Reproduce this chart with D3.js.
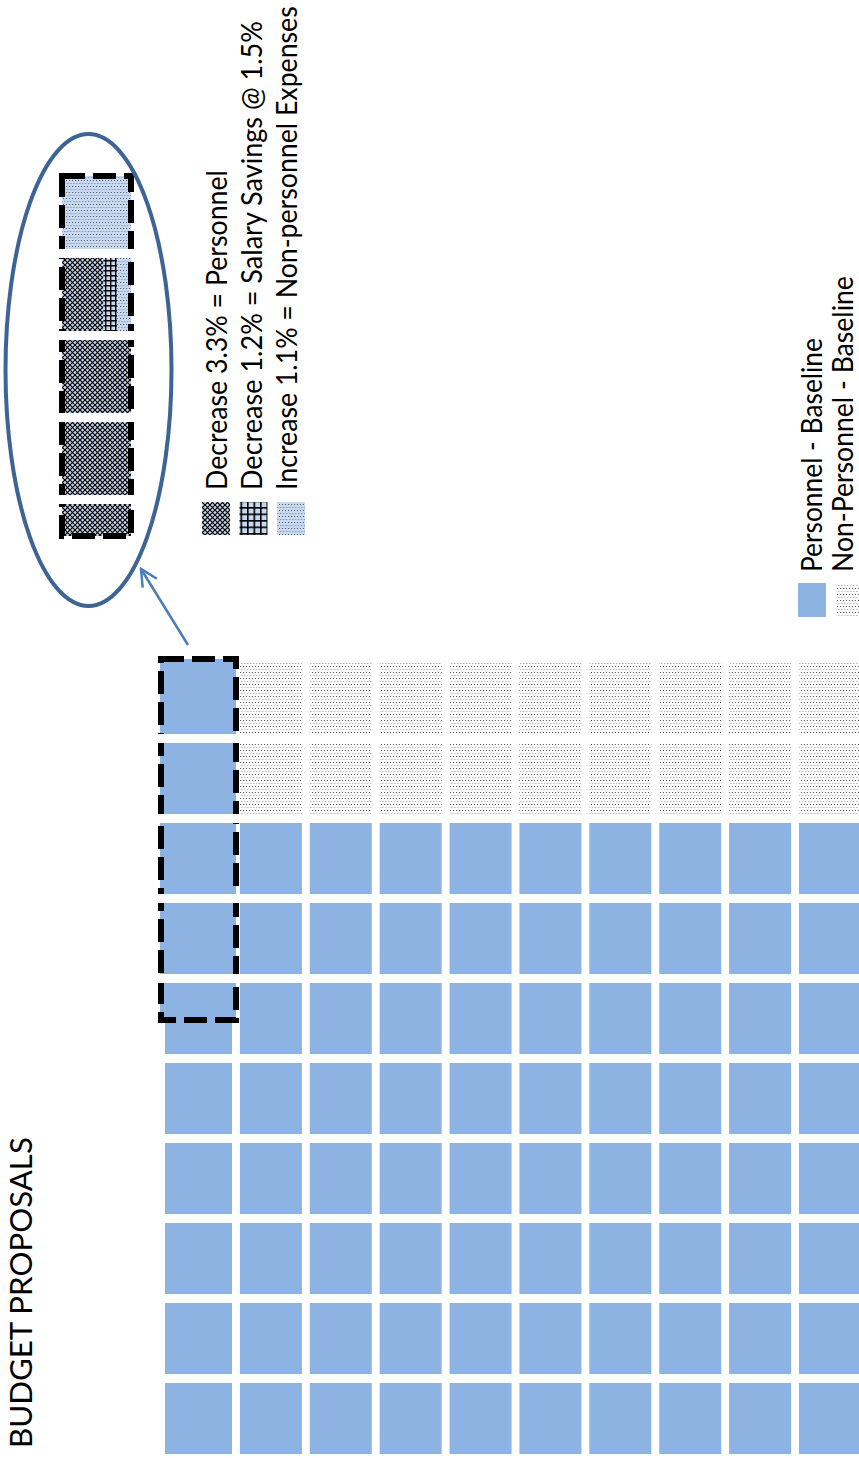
<!DOCTYPE html>
<html>
<head>
<meta charset="utf-8">
<script src="https://cdn.jsdelivr.net/npm/d3@7"></script>
<style>
  html, body { margin: 0; padding: 0; background: #fff; }
  svg { display: block; }
  text { font-family: Lato, "Open Sans", sans-serif; fill: #000; }
</style>
</head>
<body>
<div id="chart"></div>
<script>
// Waffle grid: 10 x 10 cells, each cell = 1% of the budget
const columns = d3.range(10);
const rows = d3.range(10);
// rows (from top) where the cells are non-personnel, and the columns they cover
const nonPersonnelRows = [0, 1];
const nonPersonnelCols = [1, 2, 3, 4, 5, 6, 7, 8, 9];
// cells of column 0 singled out by the dashed box (4.5 cells)
const highlightCol = 0;
const highlightCells = 4.5;

// Zoomed inset: one entry per cell (top to bottom), parts left to right
const insetCells = [
  { size: 1.0, parts: [{ key: 'inc', share: 1.0 }] },
  { size: 1.0, parts: [{ key: 'cross', share: 0.6 }, { key: 'grid', share: 0.2 }, { key: 'inc', share: 0.2 }] },
  { size: 1.0, parts: [{ key: 'cross', share: 1.0 }] },
  { size: 1.0, parts: [{ key: 'cross', share: 1.0 }] },
  { size: 0.5, parts: [{ key: 'cross', share: 1.0 }] }
];

const insetLegend = [
  { key: 'cross', label: 'Decrease 3.3% = Personnel' },
  { key: 'gridL', label: 'Decrease 1.2% = Salary Savings @ 1.5%' },
  { key: 'inc', label: 'Increase 1.1% = Non-personnel Expenses' }
];
const baseLegend = [
  { key: 'personnel', label: 'Personnel - Baseline' },
  { key: 'dots', label: 'Non-Personnel - Baseline' }
];
const title = 'BUDGET PROPOSALS';

const W = 859, H = 1458;
const BLUE = '#8db3e2', LIGHT = '#c6d9f1';

const svg = d3.select('#chart').append('svg')
  .attr('width', W).attr('height', H);

// ---- patterns
const defs = svg.append('defs');
function pattern(id, w, h, bg) {
  const p = defs.append('pattern').attr('id', id)
    .attr('patternUnits', 'userSpaceOnUse').attr('width', w).attr('height', h);
  p.append('rect').attr('width', w).attr('height', h).attr('fill', bg);
  return p;
}
let p = pattern('dots', 3, 6, '#fff');
p.append('rect').attr('x', 0).attr('y', 0).attr('width', 1).attr('height', 1).attr('fill', '#555');
p.append('rect').attr('x', 1).attr('y', 3).attr('width', 1.5).attr('height', 1).attr('fill', '#b8b8b8');

p = pattern('inc', 3, 6, LIGHT);
p.append('rect').attr('x', 0).attr('y', 0).attr('width', 1).attr('height', 1).attr('fill', '#556');
p.append('rect').attr('x', 1).attr('y', 3).attr('width', 1.5).attr('height', 1).attr('fill', '#8a9ab0');

p = pattern('cross', 5, 5, LIGHT);
p.append('path').attr('d', 'M-1,-1L6,6M6,-1L-1,6').attr('stroke', '#000').attr('stroke-width', 1.2);

p = pattern('grid', 5, 5, LIGHT);
p.append('path').attr('d', 'M0,0.7H5M0.7,0V5').attr('stroke', '#000').attr('stroke-width', 1.4);

p = pattern('gridL', 6.5, 6.5, LIGHT);
p.append('path').attr('d', 'M0,0.8H6.5M0.8,0V6.5').attr('stroke', '#000').attr('stroke-width', 1.6);

const fillFor = k => k === 'personnel' ? BLUE : `url(#${k})`;

// ---- main waffle
const x = d3.scaleBand().domain(columns).range([170, 861]).paddingInner(0.1127);
const y = d3.scaleBand().domain(rows).range([663, 1454]).paddingInner(0.1125);

const cells = [];
rows.forEach(r => columns.forEach(c => {
  const np = nonPersonnelRows.includes(r) && nonPersonnelCols.includes(c);
  cells.push({ r, c, key: np ? 'dots' : 'personnel' });
}));

svg.append('g').selectAll('rect').data(cells).join('rect')
  .attr('x', d => d.c === 0 ? x(d.c) - 5 : x(d.c))
  .attr('y', d => y(d.r))
  .attr('width', d => d.c === 0 ? x.bandwidth() + 5 : x.bandwidth())
  .attr('height', y.bandwidth())
  .attr('fill', d => fillFor(d.key));

// highlighted cells are drawn a touch wider inside the dashed box
const boxX0 = x(highlightCol) - 9, boxX1 = x(highlightCol) + x.bandwidth() + 4;
const boxY0 = y(0) - 4, boxY1 = y(0) + highlightCells * y.step() - 3;
const hl = d3.range(Math.ceil(highlightCells));
svg.append('g').selectAll('rect').data(hl).join('rect')
  .attr('x', boxX0 - 1)
  .attr('y', r => r === 0 ? boxY0 : y(r))
  .attr('width', boxX1 - boxX0 + 1)
  .attr('height', r => Math.min(y(r) + y.bandwidth(), boxY1) - (r === 0 ? boxY0 : y(r)))
  .attr('fill', BLUE);

svg.append('rect')
  .attr('x', boxX0).attr('y', boxY0)
  .attr('width', boxX1 - boxX0).attr('height', boxY1 - boxY0)
  .attr('fill', 'none').attr('stroke', '#000')
  .attr('stroke-width', 6).attr('stroke-dasharray', '23,8');

// the white gaps between rows cut through the dashed border
svg.append('g').selectAll('rect').data(hl.slice(0, -1)).join('rect')
  .attr('x', boxX0 - 4).attr('y', r => y(r) + y.bandwidth())
  .attr('width', boxX1 - boxX0 + 8).attr('height', y.step() - y.bandwidth())
  .attr('fill', '#fff');

// ---- inset
const insetX = d3.scaleLinear().domain([0, 1]).range([62, 131]);
const insetStep = 82, insetGap = 9, insetTop = 176;
let yy = insetTop;
insetCells.forEach(cell => {
  const h = cell.size * insetStep - insetGap;
  let acc = 0;
  cell.parts.forEach(part => {
    svg.append('rect')
      .attr('x', insetX(acc)).attr('y', yy)
      .attr('width', insetX(acc + part.share) - insetX(acc))
      .attr('height', h)
      .attr('fill', fillFor(part.key));
    acc += part.share;
  });
  cell.y1 = yy + h;
  yy += h + insetGap;
});
const insetBottom = yy - insetGap;
svg.append('rect')
  .attr('x', insetX(0)).attr('y', insetTop)
  .attr('width', insetX(1) - insetX(0)).attr('height', insetBottom - insetTop)
  .attr('fill', 'none').attr('stroke', '#000')
  .attr('stroke-width', 6).attr('stroke-dasharray', '23,8');
svg.append('g').selectAll('rect').data(insetCells.slice(0, -1)).join('rect')
  .attr('x', insetX(0) - 4).attr('y', d => d.y1)
  .attr('width', insetX(1) - insetX(0) + 8).attr('height', insetGap)
  .attr('fill', '#fff');

svg.append('ellipse')
  .attr('cx', 88.5).attr('cy', 370).attr('rx', 83).attr('ry', 236)
  .attr('fill', 'none').attr('stroke', '#3c6494').attr('stroke-width', 4);

// arrow from the dashed box to the inset
defs.append('marker').attr('id', 'arr')
  .attr('viewBox', '0 0 12 12').attr('refX', 11).attr('refY', 6)
  .attr('markerWidth', 20).attr('markerHeight', 20).attr('markerUnits', 'userSpaceOnUse')
  .attr('orient', 'auto')
  .append('path').attr('d', 'M1,1L11,6L1,11')
  .attr('fill', 'none').attr('stroke', '#4a7ebb').attr('stroke-width', 1.5);
svg.append('line')
  .attr('x1', 188).attr('y1', 645).attr('x2', 141).attr('y2', 569)
  .attr('stroke', '#4a7ebb').attr('stroke-width', 2.5)
  .attr('marker-end', 'url(#arr)');

// ---- vertical text helper: squeeze along the reading direction to the wanted length
function vtext(bx, by, str, size, len) {
  const t = svg.append('text')
    .attr('font-size', size)
    .text(str);
  const natural = t.node().getComputedTextLength();
  const k = len / natural;
  t.attr('transform', `translate(${bx},${by}) rotate(-90) scale(${k},1)`);
  return t;
}

// inset legend
const insetLens = [320, 469, 484];
insetLegend.forEach((d, i) => {
  const bx = 227 + i * 35;
  svg.append('rect')
    .attr('x', bx - 25 + i * 2.5).attr('y', 502).attr('width', 28).attr('height', 33)
    .attr('fill', fillFor(d.key));
  vtext(bx, 490, d.label, 28, insetLens[i]);
});

// baseline legend
const baseLens = [234, 296];
baseLegend.forEach((d, i) => {
  const bx = 822 + i * 31;
  svg.append('rect')
    .attr('x', 798 + i * 38).attr('y', 583).attr('width', 28).attr('height', 34)
    .attr('fill', fillFor(d.key));
  vtext(bx, 572, d.label, 28, baseLens[i]);
});

// title
vtext(32, 1448, title, 31, 311);
</script>
</body>
</html>
